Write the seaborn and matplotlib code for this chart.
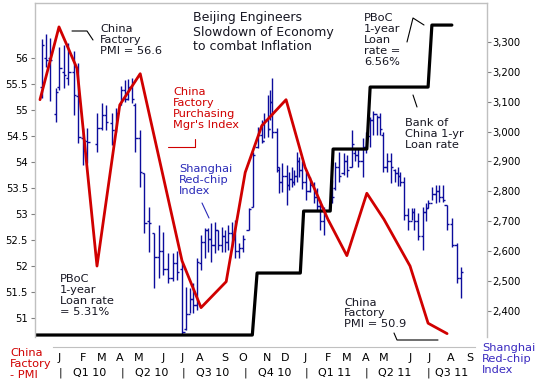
import numpy as np
import pandas as pd
import matplotlib
matplotlib.use("Agg")
import matplotlib.pyplot as plt
import seaborn as sns
from matplotlib import transforms
from matplotlib.lines import Line2D

sns.set_style("white")
plt.rcParams['font.family'] = ['DejaVu Sans']

# ---------------- data (time axis in weeks from Dec 2009) ----------------
bar_t = [0.4, 1.2, 2.1, 3.3, 4.1, 5.1, 6.0, 7.2, 8.1, 9.1, 10.0,
         12.1, 13.0, 13.9, 15.1, 16.1, 17.1, 17.9, 18.6, 19.4, 20.1, 21.1, 22.0, 23.0, 24.1,
         25.1, 26.0, 27.0, 27.9, 28.8, 30.0, 30.8, 31.6, 32.3, 33.0, 33.9, 34.7, 35.4, 36.1,
         36.8, 37.5, 38.3, 38.9, 39.6, 40.4, 41.1, 41.9, 42.8, 43.9, 44.9, 45.8, 46.7, 47.2,
         47.9, 48.4, 48.9, 49.8, 50.3, 50.9, 51.9, 52.4, 53.0, 53.5, 54.1, 54.5, 55.1, 56.1,
         56.8, 57.7, 58.3, 58.9, 59.8, 61.4, 62.1, 63.0, 63.9, 64.6, 65.6, 66.3, 67.0, 67.9,
         68.6, 69.5, 70.2, 70.9, 71.6, 72.3, 73.0, 73.9, 74.7, 75.3, 75.8, 76.7, 77.5, 78.3,
         78.8, 79.6, 80.7, 81.2, 81.7, 82.6, 83.3, 84.0, 84.8, 85.6, 86.7, 87.7, 88.6]
bar_high = [3310, 3326, 3314, 3146, 3284, 3290, 3297, 3268, 3230, 3012, 3012,
            3062, 3096, 3089, 3062, 3079, 3153, 3173, 3176, 3180, 3096, 3006, 2862, 2748, 2661,
            2688, 2664, 2594, 2594, 2600, 2560, 2480, 2477, 2494, 2577, 2654, 2678, 2678, 2694,
            2698, 2671, 2681, 2671, 2688, 2698, 2704, 2627, 2654, 2745, 2932, 3016, 3039, 3062,
            3123, 3139, 3180, 3012, 2882, 2895, 2889, 2865, 2882, 2870, 2932, 2915, 2900, 2865,
            2848, 2830, 2812, 2771, 2748, 2838, 2898, 2932, 2929, 2922, 3006, 2945, 2945, 2979,
            2999, 3049, 3070, 3056, 3062, 2999, 2929, 2929, 2875, 2880, 2865, 2848, 2745, 2745,
            2745, 2728, 2748, 2760, 2771, 2815, 2822, 2822, 2822, 2755, 2711, 2627, 2547]
bar_low = [3113, 3217, 3103, 3033, 3139, 3146, 3156, 3056, 2962, 2889, 2895,
           2932, 3006, 3006, 2955, 2999, 3089, 3099, 3106, 3096, 2932, 2815, 2661, 2597, 2477,
           2510, 2520, 2494, 2500, 2505, 2320, 2336, 2393, 2393, 2403, 2537, 2577, 2597, 2564,
           2594, 2604, 2597, 2597, 2604, 2614, 2577, 2577, 2597, 2671, 2748, 2945, 2962, 2979,
           2982, 3039, 2979, 2865, 2795, 2798, 2755, 2805, 2815, 2820, 2832, 2848, 2808, 2771,
           2798, 2760, 2738, 2671, 2654, 2761, 2805, 2832, 2855, 2848, 2882, 2900, 2882, 2848,
           2929, 2949, 2990, 2989, 2989, 2865, 2865, 2828, 2830, 2817, 2817, 2704, 2671, 2704,
           2671, 2638, 2604, 2700, 2745, 2771, 2761, 2765, 2765, 2671, 2614, 2494, 2443]
bar_open = [3150, 3245, 3246, 3060, 3150, 3200, 3180, 3200, 3120, 2980, 2970,
            2960, 3012, 3056, 3030, 3006, 3090, 3140, 3110, 3150, 3090, 2980, 2860, 2700, 2660,
            2580, 2600, 2540, 2510, 2560, 2540, 2340, 2390, 2440, 2420, 2560, 2630, 2670, 2640,
            2620, 2670, 2620, 2650, 2630, 2660, 2640, 2600, 2610, 2671, 2748, 2950, 2990, 2970,
            3040, 3010, 3100, 3000, 2870, 2830, 2850, 2820, 2840, 2830, 2850, 2900, 2870, 2830,
            2800, 2820, 2780, 2750, 2700, 2765, 2810, 2880, 2860, 2900, 2880, 2930, 2920, 2900,
            2950, 2985, 3040, 3060, 3050, 2990, 2880, 2900, 2870, 2860, 2850, 2830, 2720, 2700,
            2730, 2700, 2650, 2730, 2745, 2760, 2790, 2800, 2780, 2755, 2690, 2620, 2510]
bar_close = [3290, 3240, 3240, 3134, 3213, 3190, 3200, 3123, 2982, 2972, 2965,
             3012, 3056, 3032, 3006, 3062, 3140, 3110, 3150, 3110, 2979, 2865, 2694, 2694, 2581,
             2600, 2540, 2510, 2560, 2530, 2330, 2390, 2440, 2420, 2564, 2630, 2670, 2640, 2620,
             2671, 2620, 2650, 2630, 2660, 2640, 2600, 2610, 2640, 2740, 2920, 2990, 2970, 3040,
             3010, 3100, 3000, 2880, 2830, 2850, 2820, 2840, 2830, 2850, 2900, 2870, 2830, 2800,
             2820, 2780, 2750, 2700, 2720, 2780, 2880, 2850, 2900, 2870, 2960, 2920, 2900, 2950,
             2985, 3040, 3060, 3050, 3010, 2880, 2900, 2880, 2860, 2850, 2830, 2720, 2700, 2730,
             2700, 2650, 2730, 2745, 2760, 2790, 2800, 2780, 2770, 2690, 2620, 2510, 2530]

pmi_t = [0.0, 4.0, 7.8, 12.0, 16.8, 21.1, 25.5, 29.9, 33.9, 39.2, 43.2, 46.7, 51.8,
         55.8, 60.6, 64.6, 68.8, 72.4, 77.9, 81.7, 85.7]
pmi_val = [55.2, 56.6, 55.8, 52.0, 55.1, 55.7, 53.9, 52.1, 51.2, 51.7, 53.8, 54.7, 55.2,
           53.9, 52.9, 52.2, 53.4, 52.9, 52.0, 50.9, 50.7]

rate_t = [-1.05, 44.7, 45.7, 54.8, 55.5, 61.1, 61.7, 68.8, 69.5, 81.7, 82.5, 86.7]
rate_val = [5.31, 5.31, 5.56, 5.56, 5.81, 5.81, 6.06, 6.06, 6.31, 6.31, 6.56, 6.56]

month_t = [4.0, 9.05, 13.05, 16.84, 20.84, 25.89, 29.89, 33.68, 38.95, 42.74, 47.79,
           51.58, 55.79, 60.63, 64.63, 68.63, 72.42, 77.89, 81.89, 86.53, 90.53]
month_lbl = ["J", "F", "M", "A", "M", "J", "J", "A", "S", "O", "N", "D",
             "J", "F", "M", "A", "M", "J", "J", "A", "S"]
quarter_t = [10.5, 23.6, 36.4, 49.5, 62.1, 74.7, 86.7]
quarter_lbl = ["Q1 10", "Q2 10", "Q3 10", "Q4 10", "Q1 11", "Q2 11", "Q3 11"]
qsep_t = [4.2, 17.3, 30.1, 43.2, 56.0, 68.8, 81.7]

pmi_ticks = [51, 51.5, 52, 52.5, 53, 53.5, 54, 54.5, 55, 55.5, 56]
idx_ticks = [2400, 2500, 2600, 2700, 2800, 2900, 3000, 3100, 3200, 3300]

# ---------------- styling ----------------
BLUE = "#0c0c9c"
RED = "#d00000"
GRAY = "#c0c0c0"
TXT = "#161622"
W, H = 541, 383
L, R, T, B = 35, 487, 3, 337

fig = plt.figure(figsize=(W / 100, H / 100), dpi=100)
fig.patch.set_facecolor("white")
ax1 = fig.add_axes([L / W, 1 - B / H, (R - L) / W, (B - T) / H])
ax2 = ax1.twinx()
ax3 = ax1.twinx()
ax1.set_zorder(3); ax1.patch.set_visible(False)
ax3.set_zorder(2); ax3.patch.set_visible(False)
ax2.set_zorder(1)

# OHLC bars (Shanghai Red-chip index)
bt = np.array(bar_t)
ax2.vlines(bt, bar_low, bar_high, color=BLUE, lw=1.0)
ax2.hlines(bar_open, bt - 0.45, bt, color=BLUE, lw=1.0)
ax2.hlines(bar_close, bt, bt + 0.45, color=BLUE, lw=1.0)

# PBoC loan rate
sns.lineplot(x=rate_t, y=rate_val, ax=ax3, color="black", lw=2.3, sort=False,
             estimator=None)
# PMI
sns.lineplot(x=pmi_t, y=pmi_val, ax=ax1, color=RED, lw=2.0, sort=False, estimator=None)

ax1.set_xlim(-1.05, 94.1)
ax1.set_ylim(50.635, 57.06)
ax2.set_ylim(2313, 3430)
ax3.set_ylim(5.302, 6.649)
for a in (ax1, ax2, ax3):
    a.set_xlabel(""); a.set_ylabel("")
ax3.axis("off")

for s in ("top", "left", "right"):
    ax1.spines[s].set_color(GRAY); ax1.spines[s].set_linewidth(1.0)
ax1.spines["bottom"].set_color(GRAY)
ax1.spines["bottom"].set_position(("outward", 7.2))
ax1.spines["bottom"].set_bounds(2.74, 91.6)
for s in ax2.spines.values():
    s.set_visible(False)

ax1.set_yticks(pmi_ticks, [f"{v:g}" for v in pmi_ticks])
ax1.tick_params(axis="y", length=3, width=0.8, color="#808080", labelsize=7.2, pad=2,
                labelcolor="black")
ax1.set_xticks(month_t, month_lbl)
ax1.tick_params(axis="x", length=0, pad=4, labelsize=8, labelcolor="black")

ax2.set_yticks(idx_ticks, [f"{v:,}" for v in idx_ticks])
ax2.tick_params(axis="y", length=3, width=0.8, color="#808080", labelsize=7.2, pad=1,
                labelcolor="black")

# quarter labels
bt_tr = transforms.blended_transform_factory(ax1.transData, fig.transFigure)
for q, lbl in zip(quarter_t, quarter_lbl):
    ax1.text(q, 1 - 373 / H, lbl, transform=bt_tr, ha="center", va="center",
             fontsize=8, color="black", clip_on=False)
for q in qsep_t:
    ax1.text(q, 1 - 373 / H, "|", transform=bt_tr, ha="center", va="center",
             fontsize=8, color="black", clip_on=False)


def ftext(x, y, s, **kw):
    fig.text(x / W, 1 - y / H, s, **kw)


def fline(pts, color="black"):
    xs = [p[0] / W for p in pts]
    ys = [1 - p[1] / H for p in pts]
    fig.add_artist(Line2D(xs, ys, color=color, lw=0.8, transform=fig.transFigure))


ftext(193, 32.5, "Beijing Engineers\nSlowdown of Economy\nto combat Inflation",
      fontsize=9, color=TXT, va="center", ha="left", linespacing=1.15)
ftext(100, 40, "China\nFactory\nPMI = 56.6", fontsize=8.2, color=TXT, va="center",
      linespacing=1.12)
ftext(173, 108.5, "China\nFactory\nPurchasing\nMgr's Index", fontsize=8.2, color=RED,
      va="center", linespacing=1.12)
ftext(179, 180, "Shanghai\nRed-chip\nIndex", fontsize=8.2, color="#2a2ab8", va="center",
      linespacing=1.12)
ftext(60, 295.5, "PBoC\n1-year\nLoan rate\n= 5.31%", fontsize=8.2, color=TXT,
      va="center", linespacing=1.12)
ftext(364, 40, "PBoC\n1-year\nLoan\nrate =\n6.56%", fontsize=8.2, color=TXT,
      va="center", linespacing=1.12)
ftext(405, 134, "Bank of\nChina 1-yr\nLoan rate", fontsize=8.2, color=TXT,
      va="center", linespacing=1.12)
ftext(344, 313.5, "China\nFactory\nPMI = 50.9", fontsize=8.2, color=TXT, va="center",
      linespacing=1.12)
ftext(10, 364, "China\nFactory\n- PMI", fontsize=8.2, color=RED, va="center",
      linespacing=1.12)
ftext(482, 359, "Shanghai\nRed-chip\nIndex", fontsize=8.2, color="#3a2ac0", va="center",
      linespacing=1.12)

fline([(72, 31), (87, 31), (93, 40)])
fline([(168, 147), (195, 147), (195, 139)], color=RED)
fline([(202, 203), (209, 218)], color="#2a2ab8")
fline([(407, 42), (413, 18), (424, 25)])
fline([(413, 95), (417, 107)])
fline([(394, 333), (397, 340), (438, 340)])

fig.savefig("out.png", dpi=100, facecolor="white")
